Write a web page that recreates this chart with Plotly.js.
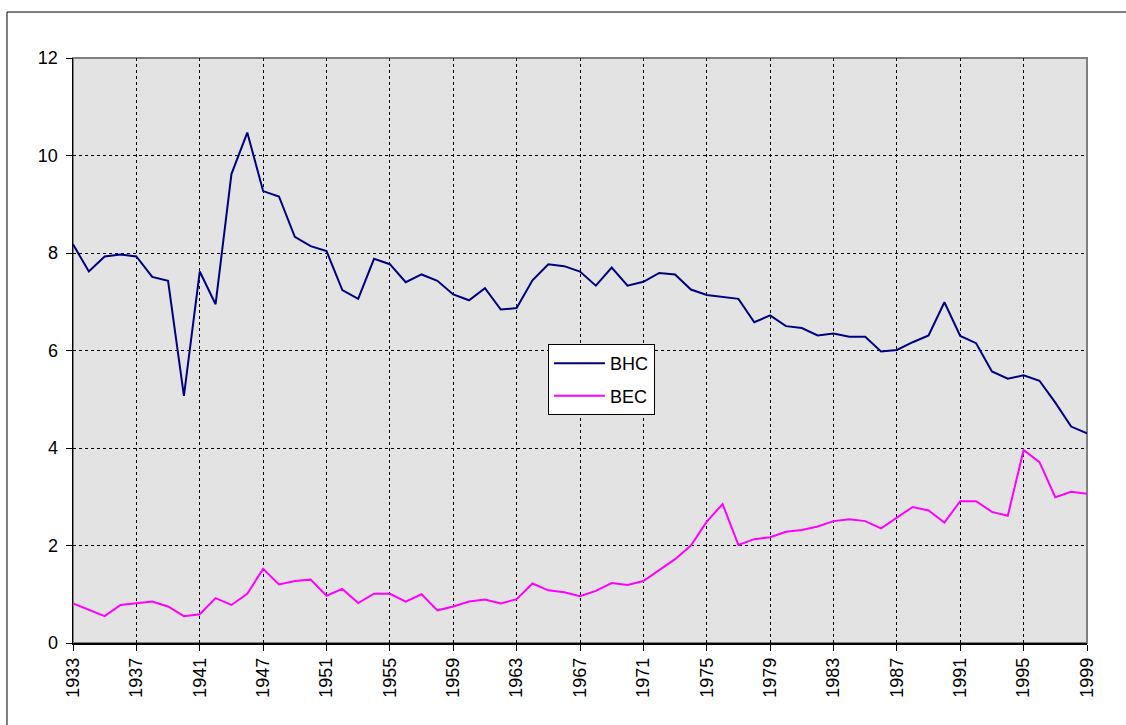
<!DOCTYPE html>
<html>
<head>
<meta charset="utf-8">
<script src="https://cdn.plot.ly/plotly-3.0.1.min.js"></script>
<style>
html, body { margin: 0; padding: 0; background: #ffffff; }
#chart { width: 1126px; height: 725px; }
</style>
</head>
<body>
<div id="chart"></div>
<script>
var years = ["1933","1934","1935","1936","1937","1938","1939","1940","1941",
  "1944","1945","1946",
  "1947","1948","1949","1950","1951","1952","1953","1954","1955","1956",
  "1957","1958","1959","1960","1961","1962","1963","1964","1965","1966",
  "1967","1968","1969","1970","1971","1972","1973","1974","1975","1976",
  "1977","1978","1979","1980","1981","1982","1983","1984","1985","1986",
  "1987","1988","1989","1990","1991","1992","1993","1994","1995","1996",
  "1997","1998","1999"];

var bhc = [8.18,7.62,7.93,7.97,7.93,7.51,7.43,5.07,7.62,
  6.95,9.62,10.47,
  9.27,9.16,8.33,8.14,8.04,7.24,7.06,7.88,7.77,7.40,
  7.56,7.43,7.15,7.03,7.28,6.84,6.87,7.44,7.77,7.73,
  7.62,7.33,7.70,7.33,7.41,7.59,7.56,7.25,7.14,7.10,
  7.06,6.58,6.72,6.50,6.46,6.31,6.35,6.28,6.28,5.98,
  6.01,6.17,6.31,6.99,6.30,6.15,5.57,5.42,5.49,5.38,
  4.93,4.44,4.30];

var bec = [0.81,0.68,0.55,0.78,0.81,0.85,0.75,0.55,0.59,
  0.92,0.78,1.01,
  1.52,1.20,1.27,1.30,0.97,1.11,0.82,1.01,1.01,0.85,
  1.00,0.67,0.75,0.85,0.89,0.81,0.90,1.22,1.08,1.04,
  0.96,1.07,1.23,1.19,1.27,1.49,1.72,2.00,2.49,2.85,
  2.01,2.13,2.17,2.28,2.32,2.39,2.50,2.54,2.50,2.35,
  2.57,2.79,2.72,2.47,2.91,2.91,2.69,2.61,3.96,3.71,
  2.99,3.10,3.06];

var xTickLabels = ["1933","1937","1941","1947","1951","1955","1959","1963",
  "1967","1971","1975","1979","1983","1987","1991","1995","1999"];
var yTicks = [0,2,4,6,8,10,12];

var seriesNames = ["BHC","BEC"];

var FONT = "Liberation Sans, Arial, sans-serif";

var traces = [
  {x: years, y: bhc, name: seriesNames[0], type: "scatter", mode: "lines",
   line: {color: "#000080", width: 2}, legendgroup: "a"},
  {x: years, y: bec, name: seriesNames[1], type: "scatter", mode: "lines",
   line: {color: "#FF00FF", width: 2}, legendgroup: "b"}
];

var layout = {
  width: 1126, height: 725,
  margin: {l: 73, r: 39, t: 58, b: 82, pad: 0},
  paper_bgcolor: "#ffffff",
  plot_bgcolor: "#E3E3E3",
  font: {family: FONT, size: 18, color: "#000000"},
  showlegend: true,
  legend: {
    x: 0.4684, y: 0.511, xanchor: "left", yanchor: "top",
    bgcolor: "#ffffff", bordercolor: "#000000", borderwidth: 1,
    font: {family: FONT, size: 18, color: "#000000"},
    tracegroupgap: 6, itemwidth: 51
  },
  xaxis: {
    type: "category",
    range: [0, years.length - 1],
    tickmode: "array", tickvals: xTickLabels, ticktext: xTickLabels,
    tickangle: -90,
    ticks: "outside", ticklen: 6, tickwidth: 1, tickcolor: "#000000",
    showline: true, linecolor: "#000000", linewidth: 1.5,
    showgrid: true, gridcolor: "#000000", griddash: "dot", gridwidth: 1,
    zeroline: false,
    tickfont: {family: FONT, size: 18, color: "#000000"},
    fixedrange: true
  },
  yaxis: {
    range: [0, 12],
    tickmode: "array", tickvals: yTicks, ticktext: yTicks.map(String),
    ticks: "outside", ticklen: 6, tickwidth: 1, tickcolor: "#000000",
    ticklabelstandoff: 4,
    showline: true, linecolor: "#000000", linewidth: 1.5,
    showgrid: true, gridcolor: "#000000", griddash: "dot", gridwidth: 1,
    zeroline: false,
    tickfont: {family: FONT, size: 18, color: "#000000"},
    fixedrange: true
  },
  shapes: [
    {type: "rect", xref: "paper", yref: "paper", x0: 0, x1: 1, y0: 0, y1: 1,
     line: {color: "#808080", width: 2}, fillcolor: "rgba(0,0,0,0)", layer: "below"},
    {type: "rect", xref: "paper", yref: "paper", x0: -0.0651, x1: 1.06, y0: -0.16, y1: 1.0786,
     line: {color: "#000000", width: 1}, fillcolor: "rgba(0,0,0,0)", layer: "below"}
  ]
};

Plotly.newPlot("chart", traces, layout, {displayModeBar: false, staticPlot: true});
</script>
</body>
</html>
